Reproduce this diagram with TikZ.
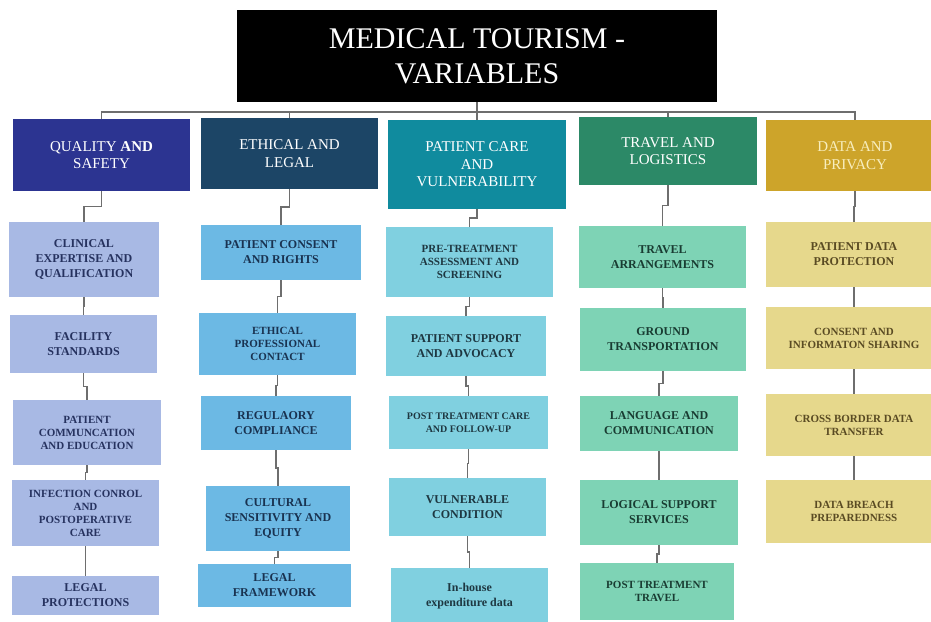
\documentclass[tikz,border=0pt]{standalone}
\usepackage{fontspec}
\setmainfont{Liberation Serif}
\usetikzlibrary{calc}
\definecolor{catA}{RGB}{44,52,145}
\definecolor{catB}{RGB}{28,69,102}
\definecolor{catC}{RGB}{16,139,158}
\definecolor{catD}{RGB}{44,137,103}
\definecolor{catE}{RGB}{205,164,42}
\definecolor{subA}{RGB}{168,185,228}
\definecolor{subB}{RGB}{108,185,228}
\definecolor{subC}{RGB}{128,208,224}
\definecolor{subD}{RGB}{126,211,181}
\definecolor{subE}{RGB}{230,216,140}
\definecolor{txtA}{RGB}{38,50,95}
\definecolor{txtB}{RGB}{25,50,80}
\definecolor{txtC}{RGB}{30,55,65}
\definecolor{txtD}{RGB}{25,60,50}
\definecolor{txtE}{RGB}{90,75,35}
\definecolor{txtCatE}{RGB}{248,238,190}
\definecolor{linkgray}{RGB}{110,110,110}
\tikzset{
  box/.style={inner sep=0pt, outer sep=0pt, align=center},
  titlebox/.style={box, fill=black, text=white, font=\fontsize{30}{35}\selectfont},
  cat/.style={box, text=white, font=\fontsize{15}{17.5}\selectfont},
  sub/.style={box, font=\fontsize{12}{15}\selectfont\bfseries},
  tight/.style={font=\fontsize{11}{13}\selectfont\bfseries},
  small/.style={font=\fontsize{10}{13}\selectfont\bfseries},
  link/.style={draw=linkgray, line width=1.1pt},
}
\newcommand\mybox[7]{\node[#6, minimum width={(#4-#2)*1pt}, minimum height={(#5-#3)*1pt}] (#1) at ({(#2+#4)/2},{(#3+#5)/2}) {#7};}
\newcommand\jog[2]{\draw[link] (#1.south) |- ($(#1.south)!.5!(#2.north)$) -| (#2.north);}
\begin{document}
\begin{tikzpicture}[x=1pt,y=-1pt]
\useasboundingbox (0,0) rectangle (931,621);
\fill[white] (0,0) rectangle (931,621);
\begin{scope}
\clip (0,0) rectangle (931,621);
% title
\mybox{title}{237}{10}{717}{102}{titlebox}{MEDICAL TOURISM -\\VARIABLES}
% categories
\mybox{catA}{13}{119}{190}{191}{cat,fill=catA}{QUALITY \textbf{AND}\\SAFETY}
\mybox{catB}{201}{118}{378}{189}{cat,fill=catB}{ETHICAL AND\\LEGAL}
\mybox{catC}{388}{120}{566}{209}{cat,fill=catC}{PATIENT CARE\\AND\\VULNERABILITY}
\mybox{catD}{579}{117}{757}{185}{cat,fill=catD}{TRAVEL AND\\LOGISTICS}
\mybox{catE}{766}{120}{944}{191}{cat,fill=catE,text=txtCatE}{DATA AND\\PRIVACY}
% column A
\mybox{a1}{9}{222}{159}{297}{sub,fill=subA,text=txtA}{CLINICAL\\EXPERTISE AND\\QUALIFICATION}
\mybox{a2}{10}{315}{157}{373}{sub,fill=subA,text=txtA}{FACILITY\\STANDARDS}
\mybox{a3}{13}{400}{161}{465}{sub,tight,fill=subA,text=txtA}{PATIENT\\COMMUNCATION\\AND EDUCATION}
\mybox{a4}{12}{480}{159}{546}{sub,tight,fill=subA,text=txtA}{INFECTION CONROL\\AND\\POSTOPERATIVE\\CARE}
\mybox{a5}{12}{576}{159}{615}{sub,fill=subA,text=txtA}{LEGAL\\PROTECTIONS}
% column B
\mybox{b1}{201}{225}{361}{280}{sub,fill=subB,text=txtB}{PATIENT CONSENT\\AND RIGHTS}
\mybox{b2}{199}{313}{356}{375}{sub,tight,fill=subB,text=txtB}{ETHICAL\\PROFESSIONAL\\CONTACT}
\mybox{b3}{201}{396}{351}{450}{sub,fill=subB,text=txtB}{REGULAORY\\COMPLIANCE}
\mybox{b4}{206}{486}{350}{551}{sub,fill=subB,text=txtB}{CULTURAL\\SENSITIVITY AND\\EQUITY}
\mybox{b5}{198}{564}{351}{607}{sub,fill=subB,text=txtB}{LEGAL\\FRAMEWORK}
% column C
\mybox{c1}{386}{227}{553}{297}{sub,tight,fill=subC,text=txtC}{PRE-TREATMENT\\ASSESSMENT AND\\SCREENING}
\mybox{c2}{386}{316}{546}{376}{sub,fill=subC,text=txtC}{PATIENT SUPPORT\\AND ADVOCACY}
\mybox{c3}{389}{396}{548}{449}{sub,small,fill=subC,text=txtC}{POST TREATMENT CARE\\AND FOLLOW-UP}
\mybox{c4}{389}{478}{546}{536}{sub,fill=subC,text=txtC}{VULNERABLE\\CONDITION}
\mybox{c5}{391}{568}{548}{625}{sub,fill=subC,text=txtC}{In-house\\expenditure data}
% column D
\mybox{d1}{579}{226}{746}{288}{sub,fill=subD,text=txtD}{TRAVEL\\ARRANGEMENTS}
\mybox{d2}{580}{308}{746}{371}{sub,fill=subD,text=txtD}{GROUND\\TRANSPORTATION}
\mybox{d3}{580}{396}{738}{451}{sub,fill=subD,text=txtD}{LANGUAGE AND\\COMMUNICATION}
\mybox{d4}{580}{480}{738}{545}{sub,fill=subD,text=txtD}{LOGICAL SUPPORT\\SERVICES}
\mybox{d5}{580}{563}{734}{620}{sub,tight,fill=subD,text=txtD}{POST TREATMENT\\TRAVEL}
% column E
\mybox{e1}{766}{222}{942}{287}{sub,fill=subE,text=txtE}{PATIENT DATA\\PROTECTION}
\mybox{e2}{766}{307}{942}{369}{sub,tight,fill=subE,text=txtE}{CONSENT AND\\INFORMATON SHARING}
\mybox{e3}{766}{394}{942}{456}{sub,tight,fill=subE,text=txtE}{CROSS BORDER DATA\\TRANSFER}
\mybox{e4}{766}{480}{942}{543}{sub,tight,fill=subE,text=txtE}{DATA BREACH\\PREPAREDNESS}
% bus
\coordinate (bus) at (477,112);
\draw[link] (title.south) -- (bus);
\draw[link] (catA.north) |- (bus) -| (catE.north);
\draw[link] (catB.north) -- (catB.north |- bus);
\draw[link] (catC.north) -- (catC.north |- bus);
\draw[link] (catD.north) -- (catD.north |- bus);
% column links
\jog{catA}{a1}\jog{a1}{a2}\jog{a2}{a3}\jog{a3}{a4}\jog{a4}{a5}
\jog{catB}{b1}\jog{b1}{b2}\jog{b2}{b3}\jog{b3}{b4}\jog{b4}{b5}
\jog{catC}{c1}\jog{c1}{c2}\jog{c2}{c3}\jog{c3}{c4}\jog{c4}{c5}
\jog{catD}{d1}\jog{d1}{d2}\jog{d2}{d3}\jog{d3}{d4}\jog{d4}{d5}
\jog{catE}{e1}\jog{e1}{e2}\jog{e2}{e3}\jog{e3}{e4}
\end{scope}
\end{tikzpicture}
\end{document}
